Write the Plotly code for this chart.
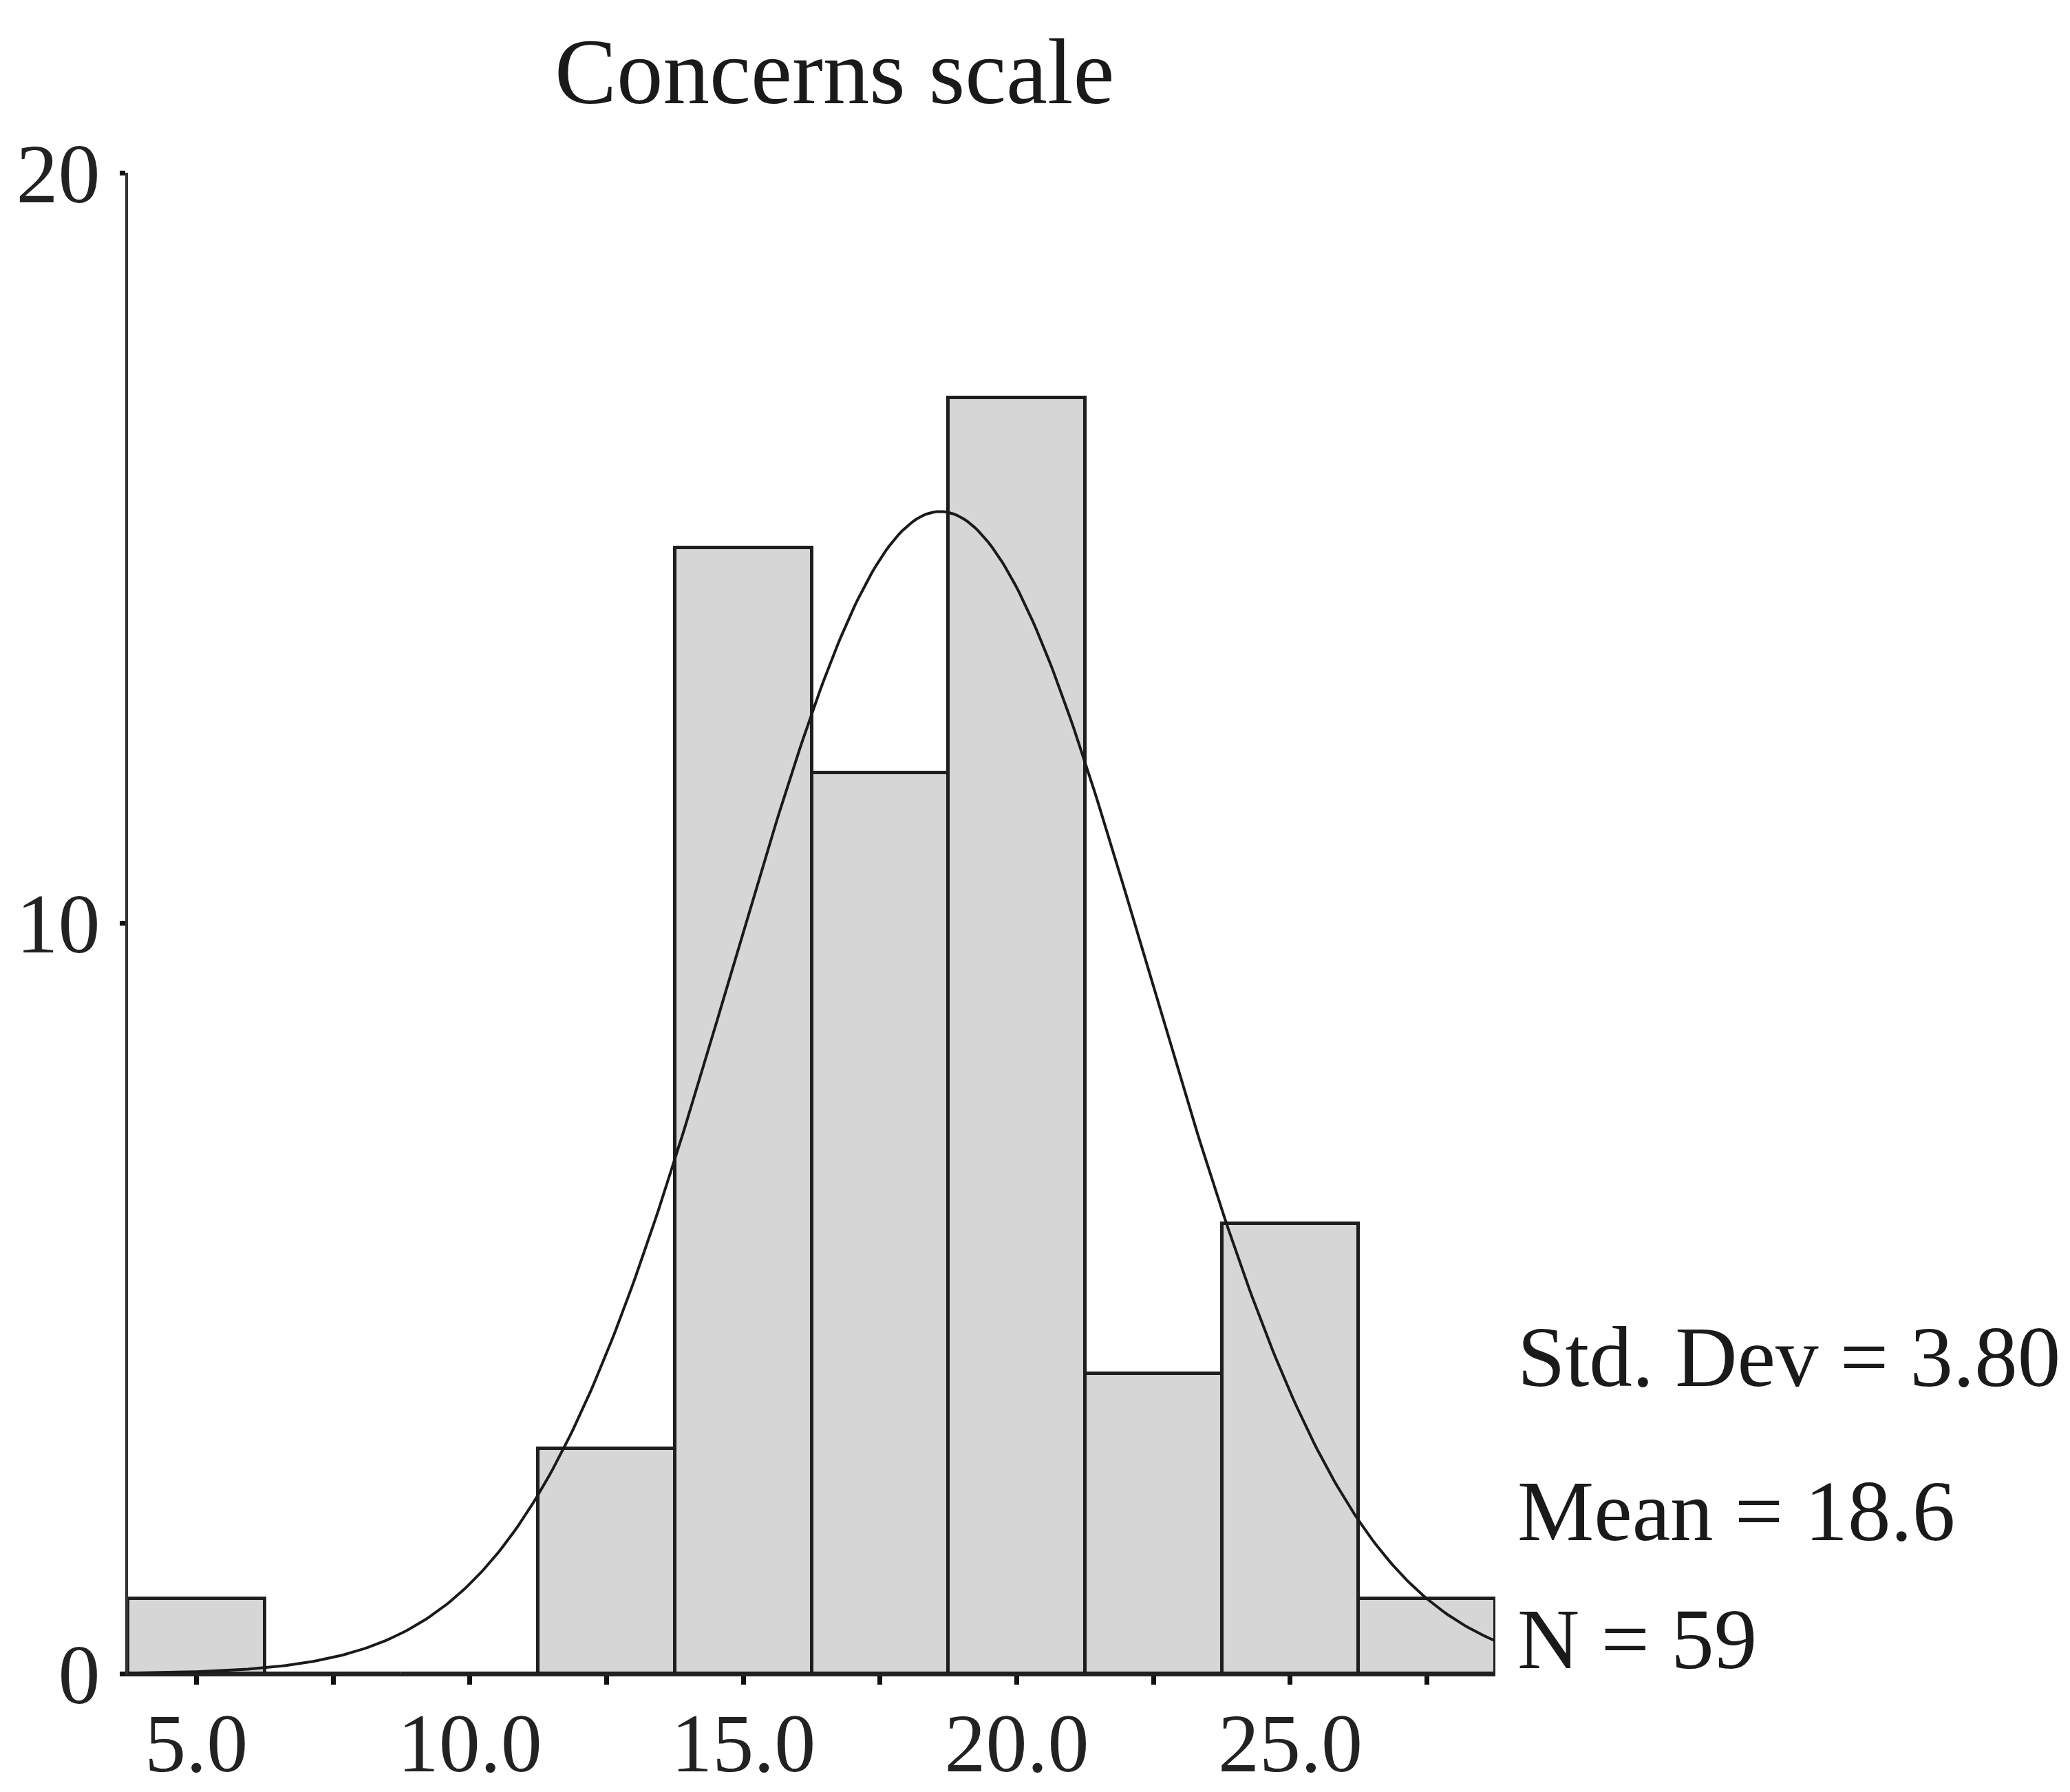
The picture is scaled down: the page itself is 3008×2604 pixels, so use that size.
import numpy as np
import plotly.graph_objects as go

# ---- data ----
bin_centers = [5.0, 7.5, 10.0, 12.5, 15.0, 17.5, 20.0, 22.5, 25.0, 27.5]
counts = [1, 0, 0, 3, 15, 12, 17, 4, 6, 1]
bin_width = 2.5
std_dev = 3.80
mean = 18.6
n_obs = 59
x_tickvals = [5.0, 7.5, 10.0, 12.5, 15.0, 17.5, 20.0, 22.5, 25.0, 27.5]
x_ticktext = ["5.0", "", "10.0", "", "15.0", "", "20.0", "", "25.0", ""]
y_tickvals = [0, 10, 20]
title_text = "Concerns scale"

# normal curve implied by the stated mean / SD / N
x_lo = bin_centers[0] - bin_width / 2
x_hi = bin_centers[-1] + bin_width / 2
xc = np.linspace(x_lo, x_hi, 400)
yc = n_obs * bin_width / (std_dev * np.sqrt(2 * np.pi)) * np.exp(-0.5 * ((xc - mean) / std_dev) ** 2)

FONT = "Liberation Serif, Times New Roman, serif"

fig = go.Figure()
fig.add_trace(go.Bar(
    x=bin_centers, y=counts, width=[bin_width] * len(bin_centers),
    marker=dict(color="#d6d6d6", line=dict(color="#1e1e1e", width=5)),
    showlegend=False,
))
fig.add_trace(go.Scatter(
    x=xc, y=yc, mode="lines",
    line=dict(color="#1a1a1a", width=4),
    showlegend=False,
))

fig.update_layout(
    width=3008, height=2604,
    margin=dict(l=186, r=835, t=251, b=172, autoexpand=False),
    paper_bgcolor="white", plot_bgcolor="white",
    font=dict(family=FONT, color="#1a1a1a"),
    bargap=0,
    xaxis=dict(
        range=[x_lo, x_hi], tickvals=x_tickvals, ticktext=x_ticktext,
        ticks="outside", ticklen=12, tickwidth=7, tickcolor="#111",
        showline=True, linecolor="#222", linewidth=4,
        showgrid=False, zeroline=False, automargin=False,
        tickfont=dict(size=120, family=FONT, color="#222"),
        ticklabelstandoff=-18,
    ),
    yaxis=dict(
        range=[0, 20], tickvals=y_tickvals,
        ticks="outside", ticklen=8, tickwidth=7, tickcolor="#111",
        showline=True, linecolor="#333", linewidth=4,
        showgrid=False, zeroline=False, automargin=False,
        tickfont=dict(size=122, family=FONT, color="#222"),
        ticklabelstandoff=4,
    ),
    annotations=[
        dict(text=title_text, xref="paper", yref="paper", x=(1212 - 186) / (2173 - 186),
             y=(2604 - 172 - 105) / (2604 - 172 - 251), xanchor="center", yanchor="middle",
             showarrow=False, font=dict(size=135, family=FONT, color="#1a1a1a")),
        dict(text=f"Std. Dev = {std_dev:.2f}", xref="paper", yref="y", x=1.015, y=(2432 - 1972) / 109,
             xanchor="left", yanchor="middle", showarrow=False,
             font=dict(size=125, family=FONT, color="#1a1a1a")),
        dict(text=f"Mean = {mean:.1f}", xref="paper", yref="y", x=1.015, y=(2432 - 2196) / 109,
             xanchor="left", yanchor="middle", showarrow=False,
             font=dict(size=125, family=FONT, color="#1a1a1a")),
        dict(text=f"N = {n_obs}", xref="paper", yref="y", x=1.015, y=(2432 - 2382) / 109,
             xanchor="left", yanchor="middle", showarrow=False,
             font=dict(size=125, family=FONT, color="#1a1a1a")),
    ],
)

fig.write_html("out.html")
